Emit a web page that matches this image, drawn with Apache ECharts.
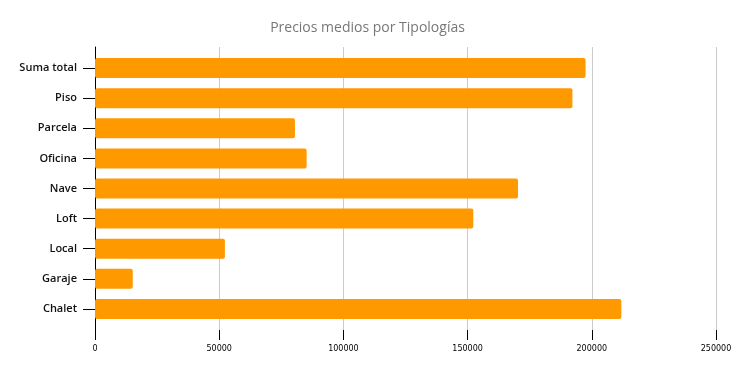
<!DOCTYPE html>
<html><head><meta charset="utf-8">
<script src="https://cdn.jsdelivr.net/npm/echarts@6/dist/echarts.min.js"></script>
<style>html,body{margin:0;padding:0;background:#fff}#c{width:735px;height:375px}</style>
</head><body><div id="c"></div>
<script>
const title = 'Precios medios por Tipologías';
const categories = ['Chalet','Garaje','Local','Loft','Nave','Oficina','Parcela','Piso','Suma total'];
const values = [211900, 15200, 52300, 152300, 170300, 85200, 80500, 192200, 197500];
const xTicks = [0, 50000, 100000, 150000, 200000, 250000];

const chart = echarts.init(document.getElementById('c'), null, {renderer:'canvas'});
chart.setOption({
  animation:false,
  backgroundColor:'#fff',
  title:{text:title,left:'center',top:16,textStyle:{fontFamily:'Open Sans',fontSize:14,fontWeight:'normal',color:'#777'}},
  grid:[
    {left:95,right:19,top:47,bottom:45,containLabel:false},
    {left:95,right:19,top:53,bottom:51,containLabel:false}
  ],
  xAxis:[
    {gridIndex:0,type:'value',min:xTicks[0],max:xTicks[xTicks.length-1],interval:xTicks[1]-xTicks[0],
     axisLine:{show:false},axisTick:{show:true,length:10,lineStyle:{color:'#000',width:1}},
     splitLine:{show:true,lineStyle:{color:'#ccc',width:1}},
     axisLabel:{margin:15,fontFamily:'DejaVu Sans',fontSize:8,color:'#000',formatter:v=>String(v)}},
    {gridIndex:1,type:'value',min:xTicks[0],max:xTicks[xTicks.length-1],show:false}
  ],
  yAxis:[
    {gridIndex:0,type:'category',data:categories,axisLine:{show:true,lineStyle:{color:'#000',width:1}},
     axisTick:{show:false},axisLabel:{show:false},splitLine:{show:false}},
    {gridIndex:1,type:'category',data:categories,axisLine:{show:false},
     axisTick:{show:true,alignWithLabel:true,length:12,lineStyle:{color:'#000',width:1}},
     axisLabel:{margin:18,fontFamily:'Open Sans',fontSize:11,fontWeight:600,color:'#111'}}
  ],
  series:[{type:'bar',xAxisIndex:1,yAxisIndex:1,data:values,barWidth:20,
    itemStyle:{color:'#FF9900',borderRadius:2}}]
});
</script></body></html>
